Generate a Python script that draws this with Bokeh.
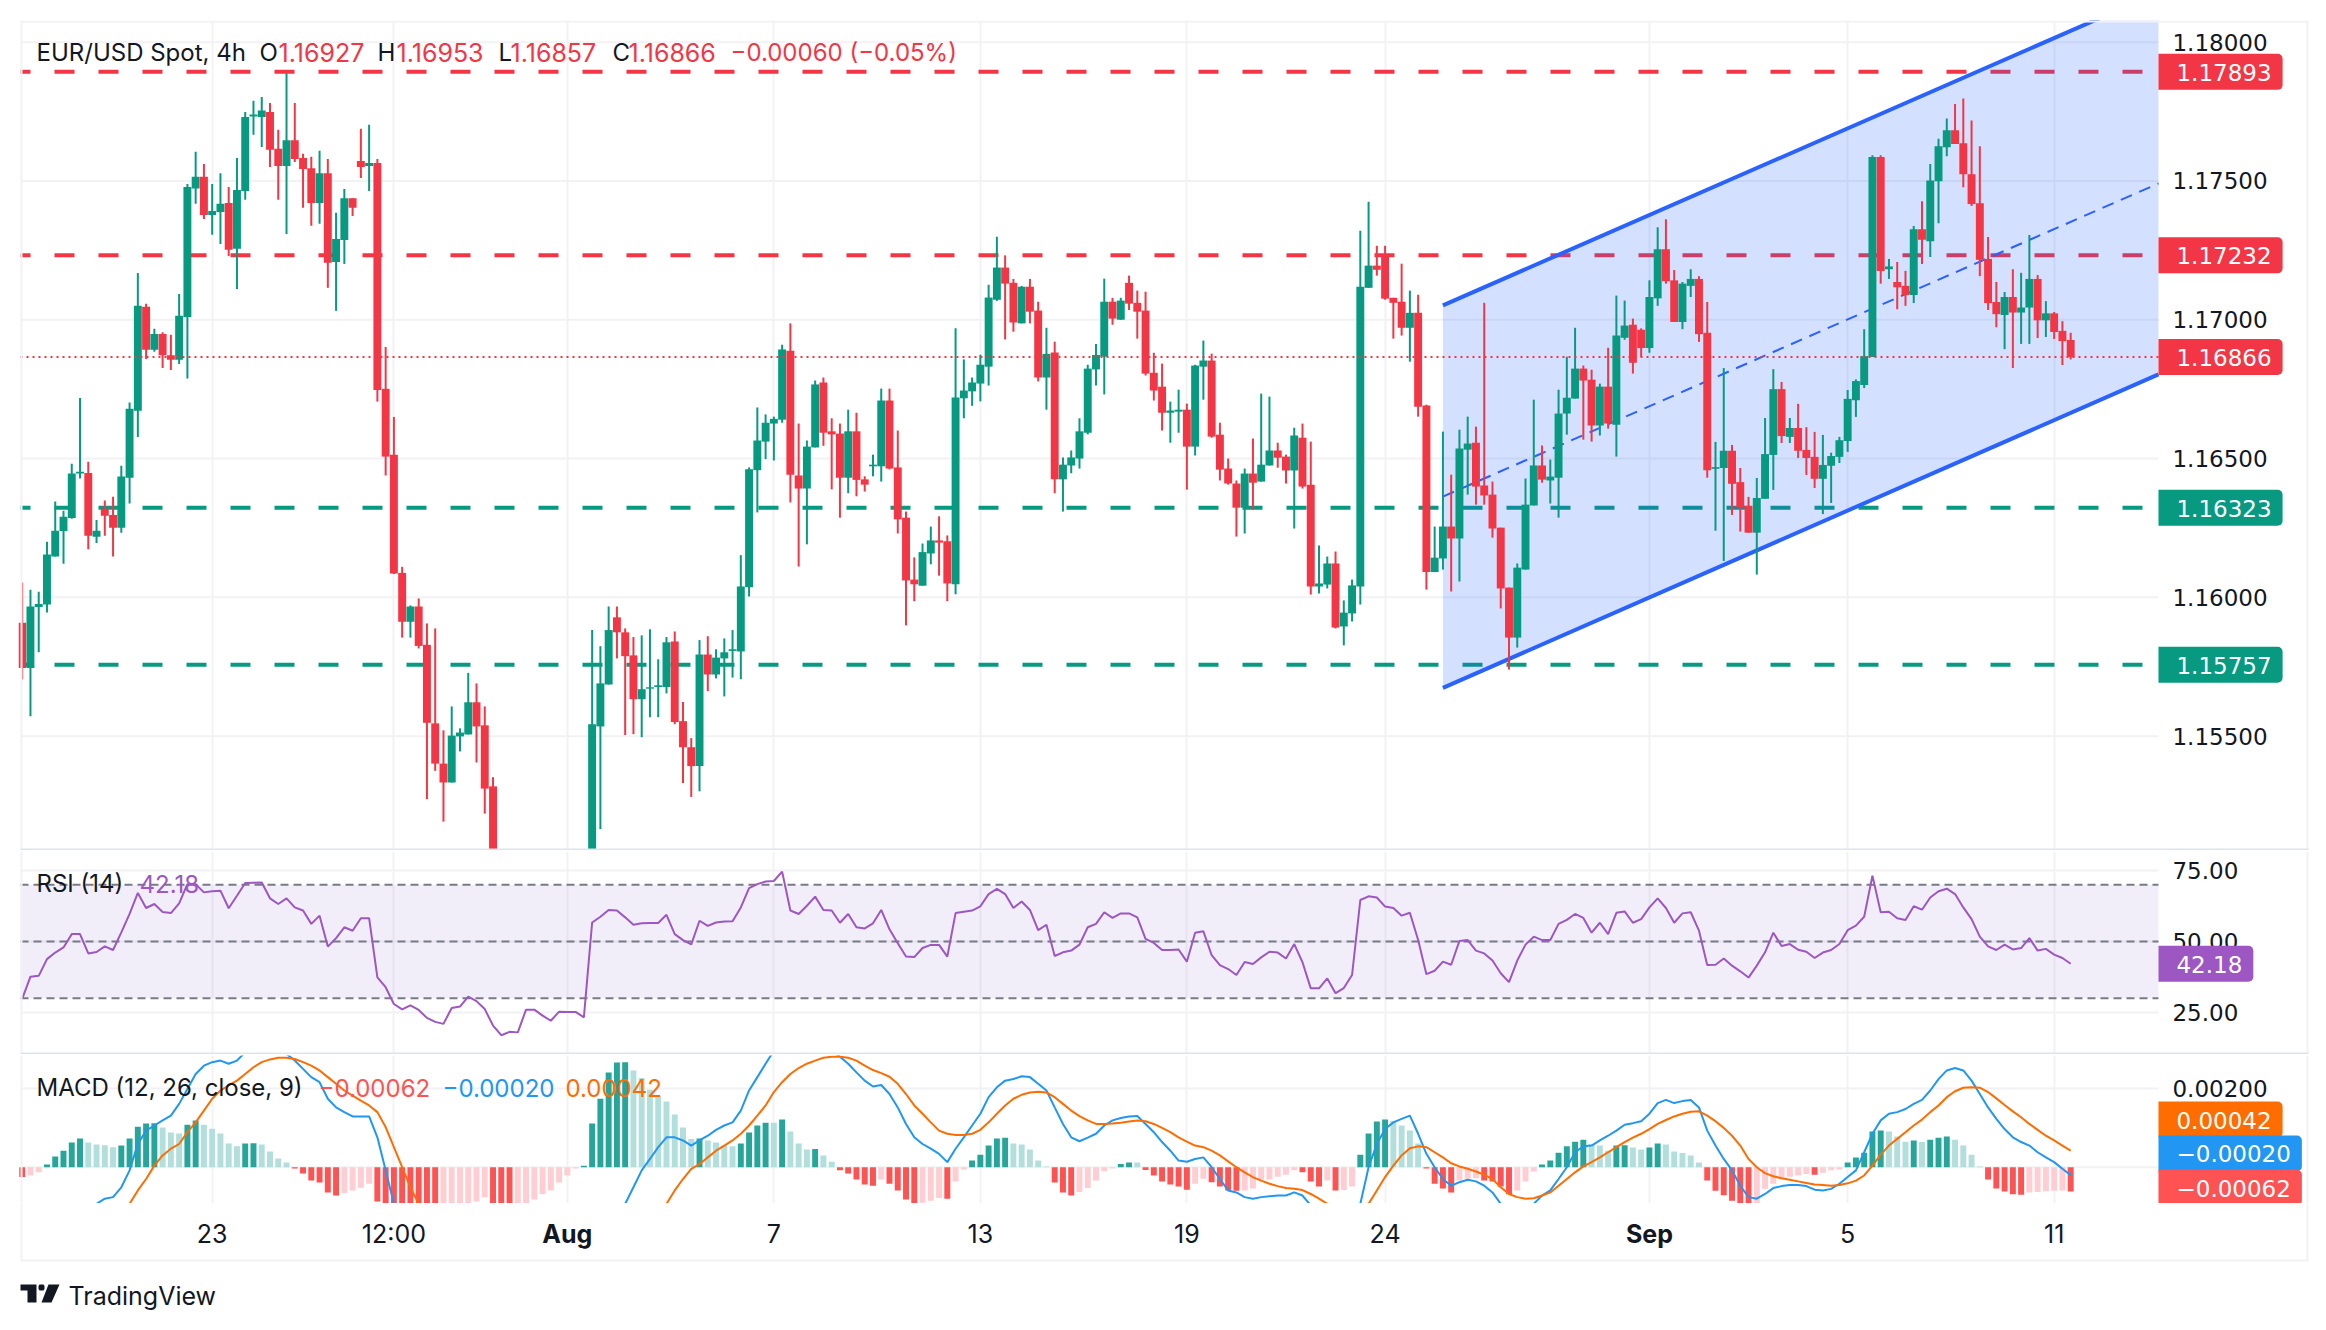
from bokeh.plotting import figure
from bokeh.layouts import column
from bokeh.models import (Range1d, FixedTicker, Label, BoxAnnotation, PolyAnnotation, LinearAxis,
                          ColumnDataSource, NumeralTickFormatter)
from bokeh.embed import file_html
from bokeh.resources import INLINE

# ---------- prices in 1e-5 units ----------
opens_e5 = [
115908,115745,115965,115974,116147,116239,116286,116446,116448,116218,
116319,116297,116251,116431,116672,117047,116892,116949,116872,116856,
117010,117473,117515,117377,117388,117421,117256,117464,117732,117730,
117748,117616,117554,117647,117583,117546,117421,117528,117208,117287,
117438,117572,117554,117565,116751,116514,116088,115912,115967,115829,
115546,115401,115333,115499,115506,115622,115539,115319,114850,114760,
114690,114830,114700,114780,114620,114700,114650,114720,114690,114760,
115535,115686,115928,115874,115791,115633,115671,115677,115677,115841,
115554,115460,115392,115794,115722,115780,115807,115805,116036,116458,
116561,116626,116640,116888,116439,116392,116540,116774,116598,116590,
116431,116598,116425,116472,116472,116709,116468,116287,116064,116042,
116158,116205,116202,116047,116717,116742,116770,116831,117072,117188,
117133,116987,117119,117033,116792,116882,116425,116475,116500,116593,
116821,116867,117065,117000,117133,117061,117033,116809,116759,116665,
116669,116676,116543,116831,116853,116586,116464,116410,116323,116446,
116417,116475,116529,116507,116457,116575,116406,116039,116046,116122,
115895,115942,116039,117115,117195,117227,117079,117065,116971,117025,
116691,116091,116140,116255,116212,116532,116557,116403,116370,116251,
116035,115855,116100,116331,116475,116421,116431,116662,116716,116824,
116784,116619,116759,116622,116935,116982,116964,116898,117077,117254,
117142,116992,117122,117147,116953,116463,116466,116528,116415,116330,
116233,116355,116513,116750,116578,116610,116531,116506,116427,116474,
116506,116563,116710,116765,116866,117586,117182,117136,117122,117089,
117326,117283,117499,117621,117683,117636,117524,117420,117219,117064,
117017,117082,117026,117044,117147,116998,117023,116960,116927]
highs_e5 = [
116053,116027,116020,116200,116345,116312,116481,116718,116488,116279,
116349,116362,116474,116702,117168,117058,116968,116955,116946,117093,
117489,117605,117561,117489,117528,117478,117583,117748,117789,117802,
117781,117684,117888,117781,117598,117587,117609,117579,117385,117471,
117438,117688,117702,117579,116902,116650,116110,115971,115996,115906,
115888,115521,115607,115528,115728,115690,115607,115352,114950,114850,
114900,114880,114850,114830,114790,114780,114800,114780,114850,115882,
115824,115967,115967,115888,115857,115863,115885,115777,115857,115877,
115623,115493,115846,115860,115813,115852,115882,116152,116468,116684,
116659,116651,116910,116987,116626,116565,116781,116792,116645,116626,
116676,116665,116436,116514,116752,116752,116601,116309,116144,116194,
116255,116292,116223,116969,116857,116792,116874,117126,117299,117232,
117147,117122,117147,117065,116971,116921,116504,116529,116645,116838,
116913,117148,117079,117079,117159,117105,117101,116881,116842,116705,
116748,116698,116838,116925,116878,116629,116500,116421,116464,116572,
116734,116723,116557,116514,116611,116626,116561,116187,116147,116165,
115989,116064,117321,117425,117267,117267,117079,117202,117105,117090,
116694,116255,116597,116442,116604,116651,116615,117061,116417,116251,
116035,116122,116428,116712,116547,116496,116748,116867,116971,116835,
116820,116770,116899,117087,117069,117004,116969,117142,117333,117362,
117179,117136,117182,117157,117064,116560,116826,116549,116466,116362,
116430,116646,116822,116776,116646,116697,116613,116596,116585,116521,
116578,116747,116785,116966,117593,117593,117219,117208,117176,117338,
117427,117561,117652,117725,117777,117797,117718,117625,117298,117136,
117100,117182,117169,117305,117161,117067,117028,116995,116953]
lows_e5 = [
115704,115572,115802,115945,116147,116121,116283,116428,116173,116196,
116222,116147,116233,116338,116578,116859,116885,116826,116819,116841,
116788,117418,117363,117306,117273,117230,117111,117432,117666,117622,
117550,117432,117309,117568,117403,117339,117346,117115,117032,117201,
117374,117511,117464,116705,116439,116084,115855,115855,115816,115273,
115375,115192,115333,115445,115506,115405,115221,114780,114700,114590,
114640,114650,114620,114560,114560,114600,114600,114640,114640,114700,
115165,115686,115780,115504,115507,115496,115568,115568,115654,115543,
115331,115281,115301,115662,115708,115643,115711,115705,116003,116306,
116498,116493,116629,116342,116111,116191,116540,116546,116389,116287,
116375,116364,116381,116436,116417,116461,116230,115899,115986,116042,
116119,116078,115986,116011,116645,116690,116706,116763,117068,116929,
116957,116987,116987,116778,116676,116375,116309,116447,116464,116587,
116763,116731,116982,117000,117035,116932,116799,116709,116601,116557,
116593,116388,116511,116712,116575,116421,116406,116219,116230,116316,
116417,116475,116467,116410,116248,116392,116010,116014,116032,115888,
115827,115913,115974,117115,117159,117072,116932,116943,116849,116651,
116028,116091,116100,116021,116057,116370,116334,116334,116215,115960,
115740,115819,116100,116331,116413,116338,116287,116586,116716,116568,
116561,116583,116608,116507,116928,116806,116866,116881,117050,117130,
116992,116966,117082,116920,116431,116240,116131,116297,116237,116233,
116082,116355,116387,116556,116556,116502,116441,116394,116300,116340,
116484,116524,116650,116754,116866,117130,117147,117038,117050,117060,
117201,117226,117348,117589,117633,117477,117410,117157,117035,116973,
116894,116826,116913,116913,116934,116938,116931,116837,116857]
closes_e5 = [
115745,115967,115976,116154,116240,116290,116446,116452,116222,116240,
116294,116251,116435,116679,117050,116892,116949,116872,116856,117014,
117478,117515,117377,117392,117418,117252,117467,117730,117739,117754,
117612,117554,117647,117579,117543,117421,117528,117205,117291,117438,
117403,117550,117565,116747,116507,116086,115912,115967,115825,115548,
115401,115333,115502,115513,115622,115535,115311,114850,114760,114690,
114830,114700,114780,114620,114700,114650,114720,114690,114760,115543,
115690,115882,115874,115788,115633,115669,115676,115683,115838,115551,
115460,115392,115794,115722,115783,115802,115813,116039,116461,116565,
116629,116643,116893,116442,116392,116543,116767,116593,116587,116431,
116598,116423,116406,116478,116709,116464,116281,116061,116047,116163,
116205,116197,116050,116720,116745,116774,116838,117080,117188,117130,
116990,117119,117029,116792,116877,116425,116478,116504,116598,116824,
116873,117065,117004,117069,117058,117029,116806,116745,116665,116673,
116676,116543,116835,116853,116579,116460,116410,116323,116446,116413,
116478,116529,116503,116457,116583,116399,116039,116050,116122,115891,
115945,116043,117119,117195,117180,117076,117061,116971,117025,116687,
116091,116143,116255,116212,116536,116554,116399,116367,116248,116032,
115855,116107,116334,116475,116424,116435,116662,116719,116824,116781,
116619,116759,116626,116943,116979,116845,116898,117082,117254,117139,
116992,117130,117147,116948,116458,116469,116528,116409,116324,116233,
116358,116516,116750,116581,116610,116528,116502,116427,116477,116509,
116566,116715,116779,116869,117586,117176,117192,117117,117089,117326,
117288,117502,117625,117683,117633,117524,117417,117216,117060,117020,
117082,117026,117044,117147,116998,117023,116956,116923,116866]

rsi_values = [
29.8,37.6,37.9,43.8,46.1,47.9,52.6,52.6,45.8,46.3,48.3,47.0,53.2,59.7,67.1,61.8,63.2,60.4,60.0,63.4,
70.2,70.2,67.3,67.7,67.9,61.7,66.1,70.6,70.7,70.8,65.2,63.2,65.2,62.0,60.9,56.2,59.1,48.2,51.2,55.0,
53.8,58.2,58.2,37.4,33.9,28.0,26.1,27.5,25.9,23.1,21.7,21.0,26.6,27.1,30.6,29.0,26.2,20.4,17.0,18.2,
18.0,26.0,26.0,23.9,22.1,25.3,25.2,25.2,23.3,56.7,58.7,61.1,60.9,58.5,55.9,56.4,56.5,56.5,59.4,52.6,
50.5,49.0,57.3,55.5,56.7,57.0,57.1,62.0,68.8,70.2,71.1,71.3,74.6,60.9,59.7,62.6,65.8,61.1,60.9,56.6,
59.7,55.0,54.6,56.4,61.1,54.3,49.4,44.7,44.5,47.7,48.8,48.8,44.7,60.0,60.5,60.9,62.4,66.7,68.5,66.7,
61.8,64.1,61.1,54.0,55.9,44.9,46.2,46.8,48.9,55.0,56.2,
60.3,58.3,59.9,59.9,58.5,50.9,49.5,47.0,47.0,47.2,42.9,53.1,53.6,45.2,41.7,40.3,38.2,42.8,42.1,44.4,
46.4,46.1,44.0,49.1,42.7,33.5,33.5,37.0,31.8,33.6,38.2,64.6,65.9,65.5,62.3,61.8,59.1,60.1,50.5,38.5,
39.7,42.9,41.8,50.2,50.5,46.8,45.8,43.3,38.8,35.7,43.3,48.9,51.7,50.5,50.5,56.2,57.6,59.7,58.3,53.1,
56.6,52.6,60.1,60.6,56.6,57.9,62.0,65.2,61.8,56.6,59.9,60.3,53.8,41.7,41.8,44.0,41.5,39.5,37.3,41.5,
46.2,53.1,48.4,49.1,47.1,46.4,44.2,46.1,47.0,49.1,54.0,55.6,58.7,73.2,60.3,60.5,58.2,57.6,62.4,61.2,
65.5,67.7,68.6,66.7,62.0,57.9,51.7,48.3,47.0,48.9,47.2,47.7,51.2,46.8,47.4,45.4,44.2,42.18]

# MACD series in 1e-5 units
hist_e5 = [
-25,-21,-13,7,27,42,63,73,63,58,56,51,55,73,103,111,112,101,88,86,
108,119,108,98,86,60,53,60,61,58,40,22,12,-3,-16,-34,-39,-64,-72,-66,
-59,-52,-42,-87,-100,-125,-150,-170,-185,-200,-212,-195,-170,-145,-110,-87,-76,-110,-135,-145,
-127,-100,-82,-68,-59,-39,-21,-3,4,111,174,241,266,267,246,227,197,180,167,134,
101,72,73,68,63,55,53,60,88,106,113,113,121,91,60,45,46,30,14,-8,
-16,-31,-44,-47,-31,-42,-59,-82,-95,-90,-85,-78,-80,-36,-6,17,32,55,73,75,
60,58,45,17,2,-39,-64,-72,-63,-53,-34,
-10,-3,8,12,12,-7,-21,-36,-44,-49,-57,-42,-29,-38,-49,-59,-60,-59,-54,-32,
-31,-24,-19,-8,-13,-36,-49,-34,-59,-58,-49,32,86,116,121,118,106,93,60,-3,
-42,-54,-64,-34,-29,-28,-34,-36,-49,-69,-59,-36,-11,7,17,37,53,65,70,59,
55,42,55,56,50,45,50,60,58,40,36,30,12,-34,-60,-71,-85,-93,-97,-93,
-55,-42,-30,-24,-21,-17,-19,-14,-8,-6,12,25,37,91,93,91,78,65,68,64,
70,75,78,70,55,32,2,-31,-54,-62,-69,-70,-64,-63,-61,-60,-59,-62]
macd_e5 = [
-170,-165,-160,-150,-140,-130,-120,-112,-105,
-93,-80,-76,-51,-8,59,93,106,119,131,161,199,237,258,267,271,263,271,292,305,310,305,295,288,271,250,229,216,174,152,140,129,129,129,76,-8,-93,
-150,-190,-220,-245,-265,-280,-290,-295,-300,-300,-300,-305,-310,-310,-300,-290,-275,-255,-240,-220,-205,-195,-190,-165,-135,-125,-105,-93,
-51,-8,21,51,76,76,68,55,68,80,95,106,114,144,195,229,263,296,322,320,318,315,310,305,295,281,263,241,220,205,209,186,152,110,76,59,47,34,13,47,76,106,136,178,203,220,224,231,229,212,195,152,110,76,66,75,85,
106,119,125,129,130,110,89,64,42,17,14,21,25,0,-30,-59,-64,-76,-80,-76,-74,-72,-72,-64,-72,-97,-110,-120,-135,-140,-125,-93,0,59,97,114,123,131,85,34,0,-30,-47,-38,-32,-36,-47,-64,-93,-115,-115,-105,-93,-72,-59,-30,0,38,53,55,68,80,93,108,112,117,136,163,171,163,168,171,152,93,55,21,-8,-47,-76,-80,-68,-53,-48,-45,-45,-48,-57,-59,-55,-42,-25,-8,38,85,119,136,140,148,161,171,195,224,246,252,246,220,186,152,123,97,76,64,55,38,25,13,-4,-20]
signal_e5 = [
-195,-188,-182,-176,-170,-162,-153,-144,-135,-126,-117,-108,-100,
-93,-59,-30,4,30,47,59,89,114,144,174,195,208,220,237,254,267,274,278,278,275,267,258,246,229,212,195,182,169,157,140,102,51,0,-51,-93,
-125,-155,-180,-200,-220,-235,-245,-255,-265,-270,-275,-275,-270,-265,-255,-245,-235,-225,-215,-205,-195,-185,-170,-155,-145,-130,-120,-108,-100,
-93,-59,-30,-4,8,25,42,55,68,85,106,131,157,191,216,237,252,263,271,278,281,281,278,271,258,247,239,230,212,186,157,136,114,93,85,82,82,85,95,114,136,157,174,184,190,192,190,178,161,144,130,119,110,
110,111,113,116,119,117,110,100,89,76,65,55,51,42,30,15,0,-13,-25,-34,-42,-48,-53,-55,-58,-68,-80,-93,-105,-115,-120,-115,-93,-59,-25,4,30,48,53,51,38,25,10,2,-4,-11,-19,-30,-51,-68,-76,-80,-79,-72,-64,-47,-30,-13,2,13,25,38,51,64,75,85,97,110,120,129,136,141,142,131,117,100,80,55,21,0,-15,-23,-28,-32,-36,-40,-44,-45,-47,-45,-41,-34,-21,4,32,55,72,89,106,121,140,157,178,193,202,203,202,191,175,158,142,127,110,95,80,68,55,42]

# levels and channel anchors
resistance_levels = [1.17893, 1.17232]
support_levels = [1.16323, 1.15757]
last_price = 1.16866
channel_index = [172, 258.63]
channel_upper = [1.17052, 1.18179]
channel_middle = [1.16363, 1.17491]
channel_lower = [1.15674, 1.16803]

# axes
price_ticks = [1.155, 1.16, 1.165, 1.17, 1.175, 1.18]
rsi_ticks = [25, 50, 75]
macd_ticks = [0, 0.002]
time_ticks = [23, 45, 91, 116, 141, 165, 221, 246]
time_labels = ["23", "12:00", "7", "13", "19", "24", "5", "11"]
month_ticks = [66, 197]
month_labels = ["Aug", "Sep"]

GREEN, RED = "#089981", "#F23645"
INK = "#131722"
GRID = "#F2F2F5"
RULE = "#E0E3EB"
PURPLE = "#9C57C2"
BLUE, ORANGE, HRED = "#2196F3", "#FF6D00", "#FF5252"
FONT = "Inter"
AXIS_FONT = "DejaVu Sans"
N = len(closes_e5)
assert all(len(a) == N for a in (opens_e5, highs_e5, lows_e5, rsi_values, hist_e5, macd_e5, signal_e5))

idx = list(range(N))
X0, X1 = -0.206, 258.63           # pane edges: the price scale begins at X1
FL, FR = 18, 2310                 # frame extents on the page
PAGE_W = 2316
x_range = Range1d((FL - 21.7) / 8.26, (FR - 21.7) / 8.26)


def panel(height, yr, ticks, fmt, top=0):
    p = figure(width=PAGE_W, height=height, x_range=x_range, y_range=yr, y_axis_location="right",
               output_backend="svg", toolbar_location=None, min_border_left=FL,
               min_border_right=PAGE_W - FR, min_border_top=top, min_border_bottom=0)
    p.outline_line_color = None
    p.background_fill_color = "white"
    p.xaxis.visible = False
    p.yaxis.fixed_location = X1
    p.yaxis.ticker = FixedTicker(ticks=ticks)
    p.yaxis.formatter = NumeralTickFormatter(format=fmt)
    p.yaxis.major_label_text_font = AXIS_FONT
    p.yaxis.major_label_text_font_size = "23px"
    p.yaxis.major_label_text_color = INK
    p.yaxis.major_label_standoff = 8
    p.yaxis.major_tick_line_color = None
    p.yaxis.minor_tick_line_color = None
    p.yaxis.axis_line_color = None
    p.xgrid.ticker = FixedTicker(ticks=time_ticks + month_ticks)
    p.xgrid.grid_line_color = GRID
    p.xgrid.grid_line_width = 2
    p.ygrid.visible = False
    p.segment([X0] * len(ticks), ticks, [X1] * len(ticks), ticks, line_color=GRID, line_width=2)
    return p


def rule(p, page_top, l, r, t, b, color=GRID):
    """A border line given in page pixels; page_top is the page y of this figure's canvas."""
    p.add_layout(BoxAnnotation(left=l, right=r, top=t - page_top, bottom=b - page_top, left_units="canvas",
                               right_units="canvas", top_units="canvas", bottom_units="canvas",
                               fill_color=color, fill_alpha=1, line_color=None))


def txt(p, x, y, bottom, text, color=INK, size=24, style="normal", font=FONT):
    p.add_layout(Label(x=x - FL, x_units="screen", y=bottom - y, y_units="screen", text=text, text_color=color,
                       text_font=font, text_font_size=f"{size}px", text_font_style=style,
                       text_align="left", text_baseline="middle"))


def tag(p, y, text, color):
    p.add_layout(Label(x=X1, y=y, text=text, text_color="white",
                       text_font=AXIS_FONT, text_font_size="23px", text_align="left", text_baseline="middle",
                       background_fill_color=color, background_fill_alpha=1,
                       border_radius=(0, 5, 5, 0), padding=(18, 11, 10, 9)))


# ---------- main ----------
main = panel(850, Range1d(1.15088, 1.18078), price_ticks, "0.00000", top=20)
rule(main, 0, 20, 2308, 20, 22)
rule(main, 0, 20, 22, 20, 850)
rule(main, 0, 2306, 2308, 20, 850)
rule(main, 0, 20, 2308, 848, 850, RULE)

for lv, c in [(resistance_levels[0], RED), (resistance_levels[1], RED),
              (support_levels[0], GREEN), (support_levels[1], GREEN)]:
    main.line([X0, X1], [lv, lv], line_color=c, line_width=4, line_dash=[20, 24], line_dash_offset=10)

main.varea(channel_index, channel_lower, channel_upper, fill_color="#2962FF", fill_alpha=0.2)
main.line(channel_index, channel_upper, line_color="#2962FF", line_width=4)
main.line(channel_index, channel_lower, line_color="#2962FF", line_width=4)
main.line(channel_index, channel_middle, line_color="#2962FF", line_width=2, line_dash=[12, 8])

opens = [v / 1e5 for v in opens_e5]
highs = [v / 1e5 for v in highs_e5]
lows = [v / 1e5 for v in lows_e5]
closes = [v / 1e5 for v in closes_e5]
colors = [GREEN if c >= o else RED for o, c in zip(opens, closes)]
cds = ColumnDataSource(dict(x=idx, o=opens, h=highs, l=lows, c=closes, col=colors))
main.segment("x", "h", "x", "l", source=cds, line_color="col", line_width=2)
main.vbar("x", 0.96, "o", "c", source=cds, fill_color="col", line_color=None)
main.line([X0, X1], [last_price, last_price], line_color=RED, line_width=2, line_dash=[2, 4])

legend_bits = [(36, "EUR/USD Spot, 4h", INK, 24), (259, "O", INK, 24), (278, "1.16927", RED, 25), (377, "H", INK, 24),
               (396, "1.16953", RED, 25), (498, "L", INK, 24), (510, "1.16857", RED, 25), (612, "C", INK, 24),
               (628, "1.16866", RED, 25), (730, "\u22120.00060 (\u22120.05%)", RED, 24)]
for x, t, c, s in legend_bits:
    txt(main, x, 52, 850, t, c, s)
for lv in resistance_levels:
    tag(main, lv, f"{lv:.5f}", RED)
tag(main, last_price, f"{last_price:.5f}", RED)
for lv in support_levels:
    tag(main, lv, f"{lv:.5f}", GREEN)

# ---------- RSI ----------
rsi = panel(204, Range1d(10.21, 81.69), rsi_ticks, "0.00", top=1)
rule(rsi, 850, 20, 22, 850, 1054)
rule(rsi, 850, 2306, 2308, 850, 1054)
rule(rsi, 850, 20, 2308, 1052, 1054, RULE)
rsi.varea([X0, X1], [30, 30], [70, 70], fill_color="#7E57C2", fill_alpha=0.1)
for lv in (70, 50, 30):
    rsi.line([X0, X1], [lv, lv], line_color="#787B86", line_width=2, line_dash=[8, 5])
rsi.line(idx, rsi_values, line_color=PURPLE, line_width=2)
txt(rsi, 36, 883, 1054, "RSI (14)")
txt(rsi, 139, 883, 1054, "42.18", PURPLE)
tag(rsi, rsi_values[-1], "42.18", PURPLE)

# ---------- MACD ----------
macd = panel(149, Range1d(-0.000922, 0.002839), macd_ticks, "0.00000", top=1)
rule(macd, 1054, 20, 22, 1054, 1203)
rule(macd, 1054, 2306, 2308, 1054, 1203)

hist = [v / 1e5 for v in hist_e5]
hist_colors = []
for i, h in enumerate(hist):
    prev = hist[i - 1] if i else h
    if h >= 0:
        hist_colors.append("#26A69A" if prev < h else "#B2DFDB")
    else:
        hist_colors.append("#FFCDD2" if prev < h else "#FF5252")
macd.vbar(idx, 0.72, 0, hist, fill_color=hist_colors, line_color=None)
macd.line(idx, [v / 1e5 for v in macd_e5], line_color=BLUE, line_width=2)
macd.line(idx, [v / 1e5 for v in signal_e5], line_color=ORANGE, line_width=2)

txt(macd, 36, 1087, 1203, "MACD (12, 26, close, 9)")
txt(macd, 318, 1087, 1203, "\u22120.00062", HRED)
txt(macd, 442, 1087, 1203, "\u22120.00020", BLUE)
txt(macd, 565, 1087, 1203, "0.00042", ORANGE)
for y, t, c in [(0.00121, "0.00042", ORANGE), (0.00035, "\u22120.00020", BLUE), (-0.00052, "\u22120.00062", HRED)]:
    tag(macd, y, t, c)

# ---------- time axis and footer ----------
foot = figure(width=PAGE_W, height=117, x_range=x_range, y_range=Range1d(117, 0), y_axis_location=None,
              output_backend="svg", toolbar_location=None, min_border_left=FL, min_border_right=PAGE_W - FR,
              min_border_top=0, min_border_bottom=0)
foot.outline_line_color = None
foot.xgrid.visible = False
foot.ygrid.visible = False


def style_time_axis(ax, ticks, labels, fstyle):
    ax.fixed_location = 0
    ax.ticker = FixedTicker(ticks=ticks)
    ax.major_label_overrides = dict(zip(ticks, labels))
    ax.major_label_text_font = FONT
    ax.major_label_text_font_size = "25px"
    ax.major_label_text_font_style = fstyle
    ax.major_label_text_color = INK
    ax.major_label_standoff = 9
    ax.major_tick_line_color = None
    ax.minor_tick_line_color = None
    ax.axis_line_color = None


style_time_axis(foot.xaxis[0], time_ticks, time_labels, "normal")
month_axis = LinearAxis()
foot.add_layout(month_axis, "below")
style_time_axis(month_axis, month_ticks, month_labels, "bold")

rule(foot, 1203, 20, 22, 1203, 1260)
rule(foot, 1203, 2306, 2308, 1203, 1260)
rule(foot, 1203, 20, 2308, 1259, 1261)
txt(foot, 68, 1295, 1320, "TradingView", INK, 25)

logo_shapes = [
    ([20, 36, 36, 27, 27, 20], [1284, 1284, 1302, 1302, 1290, 1290]),
    ([48, 59, 51, 41], [1284, 1284, 1302, 1302]),
    ([39, 43, 44, 44, 43, 39, 38, 38], [1284, 1284, 1285.5, 1288.5, 1290, 1290, 1288.5, 1285.5]),
]
for xs, ys in logo_shapes:
    foot.add_layout(PolyAnnotation(xs=xs, ys=[y - 1203 for y in ys], xs_units="canvas", ys_units="canvas",
                                   fill_color=INK, fill_alpha=1, line_color=None))

layout = column(main, rsi, macd, foot, spacing=0)
open("out.html", "w").write(file_html(layout, INLINE))
